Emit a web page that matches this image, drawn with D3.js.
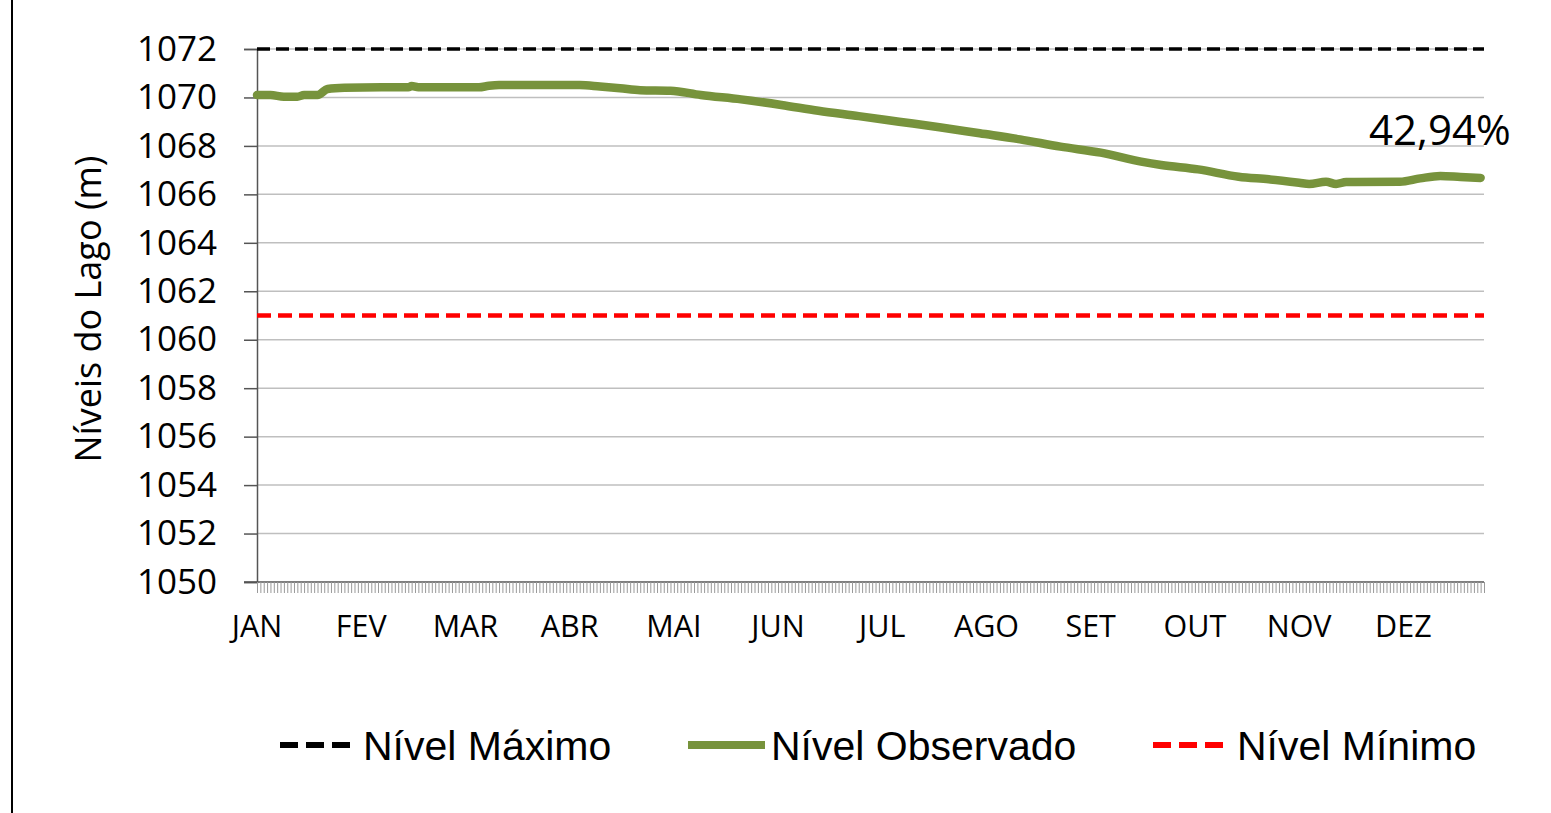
<!DOCTYPE html>
<html>
<head>
<meta charset="utf-8">
<script src="https://cdn.jsdelivr.net/npm/d3@7"></script>
<style>
  html, body { margin: 0; padding: 0; background: #fff; }
  svg { display: block; }
</style>
</head>
<body>
<svg id="chart" width="1551" height="813"></svg>
<script>
// ---- data ----
const months = ["JAN","FEV","MAR","ABR","MAI","JUN","JUL","AGO","SET","OUT","NOV","DEZ"];
const nDays = 365;
const yTicks = [1050,1052,1054,1056,1058,1060,1062,1064,1066,1068,1070,1072];
const nivelMaximo = 1072;
const nivelMinimo = 1061;
// observed lake level (day of year index, level in m)
const obsDays   = [0,4,8,12,14,18,21,26,37,45,46,48,66,69,72,96,102,108,114,123,132,144,156,167,179,191,203,215,227,239,251,263,269,280,292,301,310,313,318,321,324,340,346,352,358,364];
const obsLevels = [1070.10,1070.10,1070.03,1070.03,1070.10,1070.10,1070.35,1070.40,1070.42,1070.42,1070.47,1070.42,1070.42,1070.48,1070.51,1070.51,1070.45,1070.38,1070.30,1070.28,1070.10,1069.92,1069.69,1069.45,1069.23,1069.00,1068.77,1068.52,1068.27,1067.97,1067.72,1067.35,1067.21,1067.03,1066.73,1066.62,1066.48,1066.43,1066.52,1066.43,1066.51,1066.52,1066.66,1066.76,1066.72,1066.68];
const percentLabel = "42,94%";
const legendLabels = ["Nível Máximo","Nível Observado","Nível Mínimo"];
const yTitle = "Níveis do Lago (m)";

// ---- layout ----
const svg = d3.select("#chart");
const pLeft = 257, pRight = 1484, pTop = 49, pBottom = 582;
const font = "'Open Sans', sans-serif";
const green = "#77933C";

const x = d3.scaleLinear().domain([0, nDays]).range([pLeft, pRight]);
const y = d3.scaleLinear().domain([1050, 1072]).range([pBottom, pTop]);

// outer left border line
svg.append("line").attr("x1", 12).attr("x2", 12).attr("y1", 0).attr("y2", 813)
  .attr("stroke", "#000").attr("stroke-width", 2);

// gridlines
svg.append("g").selectAll("line").data(yTicks.filter(d => d > 1050)).join("line")
  .attr("x1", pLeft).attr("x2", pRight)
  .attr("y1", d => y(d)).attr("y2", d => y(d))
  .attr("stroke", "#bfbfbf").attr("stroke-width", 1.5);

// y axis
const yAxis = d3.axisLeft(y).tickValues(yTicks).tickSize(13).tickPadding(27).tickFormat(d3.format("d"));
const gy = svg.append("g").attr("transform", `translate(${pLeft},0)`).call(yAxis);
gy.select(".domain").attr("stroke", "#555").attr("stroke-width", 1.5);
gy.selectAll(".tick line").attr("stroke", "#555").attr("stroke-width", 1.5);
gy.selectAll(".tick text").attr("font-family", font).attr("font-size", 35).attr("fill", "#000");

// x axis baseline
svg.append("line").attr("x1", pLeft - 13).attr("x2", pRight).attr("y1", pBottom).attr("y2", pBottom)
  .attr("stroke", "#555").attr("stroke-width", 1.5);
// daily tick marks
const xAxis = d3.axisBottom(x).tickValues(d3.range(0, nDays + 1)).tickSize(11).tickFormat("");
const gx = svg.append("g").attr("transform", `translate(0,${pBottom})`).call(xAxis);
gx.select(".domain").remove();
gx.selectAll(".tick line").attr("stroke", "#9a9a9a").attr("stroke-width", 1);

// month labels every 31 days
svg.append("g").selectAll("text").data(months).join("text")
  .attr("x", (d, i) => x(i * 31)).attr("y", 637)
  .attr("text-anchor", "middle")
  .attr("font-family", font).attr("font-size", 30.5).attr("fill", "#000")
  .text(d => d);

// y title
svg.append("text")
  .attr("transform", "translate(101,309) rotate(-90)")
  .attr("text-anchor", "middle")
  .attr("font-family", font).attr("font-size", 36).attr("fill", "#000")
  .text(yTitle);

// reference lines
svg.append("line").attr("x1", x(0)).attr("x2", x(nDays))
  .attr("y1", y(nivelMaximo)).attr("y2", y(nivelMaximo))
  .attr("stroke", "#000").attr("stroke-width", 3.5).attr("stroke-dasharray", "13 6");
svg.append("line").attr("x1", x(0)).attr("x2", x(nDays))
  .attr("y1", y(nivelMinimo)).attr("y2", y(nivelMinimo))
  .attr("stroke", "#ff0000").attr("stroke-width", 4.5).attr("stroke-dasharray", "14 7");

// observed line
const obs = obsDays.map((d, i) => ({ d, v: obsLevels[i] }));
svg.append("path").datum(obs)
  .attr("fill", "none").attr("stroke", green).attr("stroke-width", 8.5)
  .attr("stroke-linejoin", "round").attr("stroke-linecap", "round")
  .attr("d", d3.line().x(p => x(p.d)).y(p => y(p.v)).curve(d3.curveMonotoneX));

// percent label
svg.append("text").attr("x", 1369).attr("y", 145)
  .attr("font-family", font).attr("font-size", 42).attr("fill", "#000")
  .text(percentLabel);

// legend
const legY = 745;
const legItems = [
  { x1: 280, x2: 352, tx: 363, color: "#000", dash: "18 8", w: 6 },
  { x1: 688, x2: 765, tx: 771, color: green, dash: null, w: 8 },
  { x1: 1153, x2: 1228, tx: 1237, color: "#ff0000", dash: "18 8", w: 6 }
];
const lg = svg.append("g");
legItems.forEach((it, i) => {
  lg.append("line").attr("x1", it.x1).attr("x2", it.x2).attr("y1", legY).attr("y2", legY)
    .attr("stroke", it.color).attr("stroke-width", it.w)
    .attr("stroke-dasharray", it.dash);
  lg.append("text").attr("x", it.tx).attr("y", legY + 15)
    .attr("font-family", "'Liberation Sans', Arial, sans-serif").attr("font-size", 41).attr("fill", "#000")
    .text(legendLabels[i]);
});
</script>
</body>
</html>
